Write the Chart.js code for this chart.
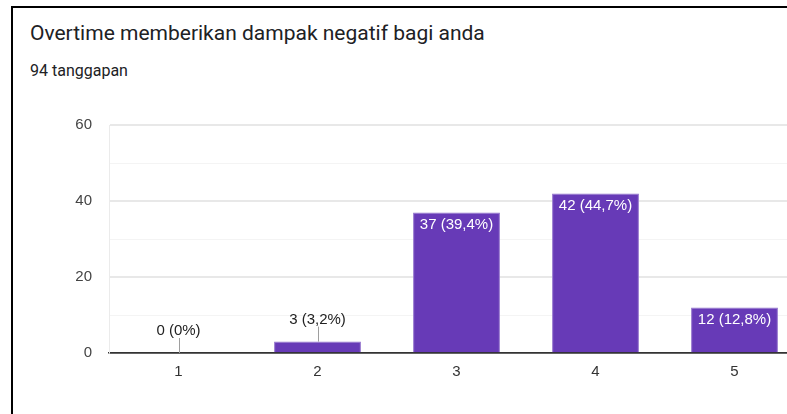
<!DOCTYPE html>
<html>
<head>
<meta charset="utf-8">
<script src="https://cdn.jsdelivr.net/npm/chart.js@4.4.1/dist/chart.umd.min.js"></script>
<style>
  html, body { margin: 0; padding: 0; background: #fff; overflow: hidden; }
  body { width: 787px; height: 414px; position: relative; }
  .frame {
    position: absolute; left: 11px; top: 6px; right: -10px; bottom: -10px;
    border-top: 2px solid #000; border-left: 2px solid #000;
  }
  .title {
    position: absolute; left: 30px; top: 21px;
    font-family: Roboto, Arial, sans-serif; font-size: 21px; color: #202124;
  }
  .count {
    position: absolute; left: 30px; top: 61px;
    font-family: Roboto, Arial, sans-serif; font-size: 16px; color: #202124;
  }
  .chart-box { position: absolute; left: 0; top: 0; width: 820px; height: 414px; }
</style>
</head>
<body>
<div class="frame"></div>
<div class="title">Overtime memberikan dampak negatif bagi anda</div>
<div class="count">94 tanggapan</div>
<div class="chart-box"><canvas id="myChart"></canvas></div>
<script>
const categories = ["1", "2", "3", "4", "5"];
const counts = [0, 3, 37, 42, 12];
const percentLabels = ["0%", "3,2%", "39,4%", "44,7%", "12,8%"];
const yTicks = [0, 20, 40, 60];

// label di atas / di dalam batang
const barLabels = {
  id: "barLabels",
  afterDatasetsDraw(chart) {
    const ctx = chart.ctx;
    const meta = chart.getDatasetMeta(0);
    ctx.save();
    ctx.font = "15px Arial, 'Liberation Sans', sans-serif";
    ctx.textAlign = "center";
    ctx.textBaseline = "middle";
    meta.data.forEach((bar, i) => {
      const text = counts[i] + " (" + percentLabels[i] + ")";
      const x = bar.x;
      const top = bar.y;
      if (bar.base - top > 30) {
        ctx.fillStyle = "#ffffff";
        ctx.fillText(text, x, top + 12);
      } else {
        ctx.strokeStyle = "#9e9e9e";
        ctx.lineWidth = 1;
        ctx.beginPath();
        ctx.moveTo(Math.round(x) + 0.5, top);
        ctx.lineTo(Math.round(x) + 0.5, top - 15);
        ctx.stroke();
        ctx.fillStyle = "#222222";
        ctx.fillText(text, x, top - 22);
      }
    });
    ctx.restore();
  }
};

const ctx = document.getElementById("myChart");
const myChart = new Chart(ctx, {
  type: "bar",
  data: {
    labels: categories,
    datasets: [
      {
        data: counts,
        backgroundColor: "#673ab7",
        borderColor: "#9575cd",
        borderWidth: { top: 1, left: 1, right: 1, bottom: 0 },
        barPercentage: 1,
        categoryPercentage: 0.625,
      },
    ],
  },
  plugins: [barLabels],
  options: {
    responsive: true,
    maintainAspectRatio: false,
    animation: false,
    layout: { padding: { top: 125, right: 16, bottom: 0, left: 0 } },
    plugins: {
      legend: { display: false },
      tooltip: { enabled: false },
    },
    scales: {
      x: {
        grid: { display: false, drawTicks: false },
        border: { display: true, color: "#333333", width: 1.5 },
        ticks: {
          color: "#333333",
          font: { family: "Arial, 'Liberation Sans', sans-serif", size: 15 },
          padding: 10,
        },
        afterFit: (scale) => { scale.height = 61; },
      },
      y: {
        min: 0,
        max: 60,
        afterBuildTicks: (scale) => {
          const t = [];
          for (let v = 0; v <= 60; v += 10) t.push({ value: v });
          scale.ticks = t;
        },
        grid: {
          drawTicks: false,
          color: (c) => c.tick.value === 0 ? "#333333" : (yTicks.includes(c.tick.value) ? "#e8e8e8" : "#f4f4f4"),
          lineWidth: (c) => c.tick.value === 0 ? 1.5 : (yTicks.includes(c.tick.value) ? 2 : 1),
        },
        border: { display: true, color: "#ebebeb", width: 1 },
        ticks: {
          color: "#444444",
          font: { family: "Arial, 'Liberation Sans', sans-serif", size: 15 },
          padding: 17,
          callback: (v) => yTicks.includes(v) ? v : "",
        },
        afterFit: (scale) => { scale.width = 109; },
      },
    },
  },
});
</script>
</body>
</html>
